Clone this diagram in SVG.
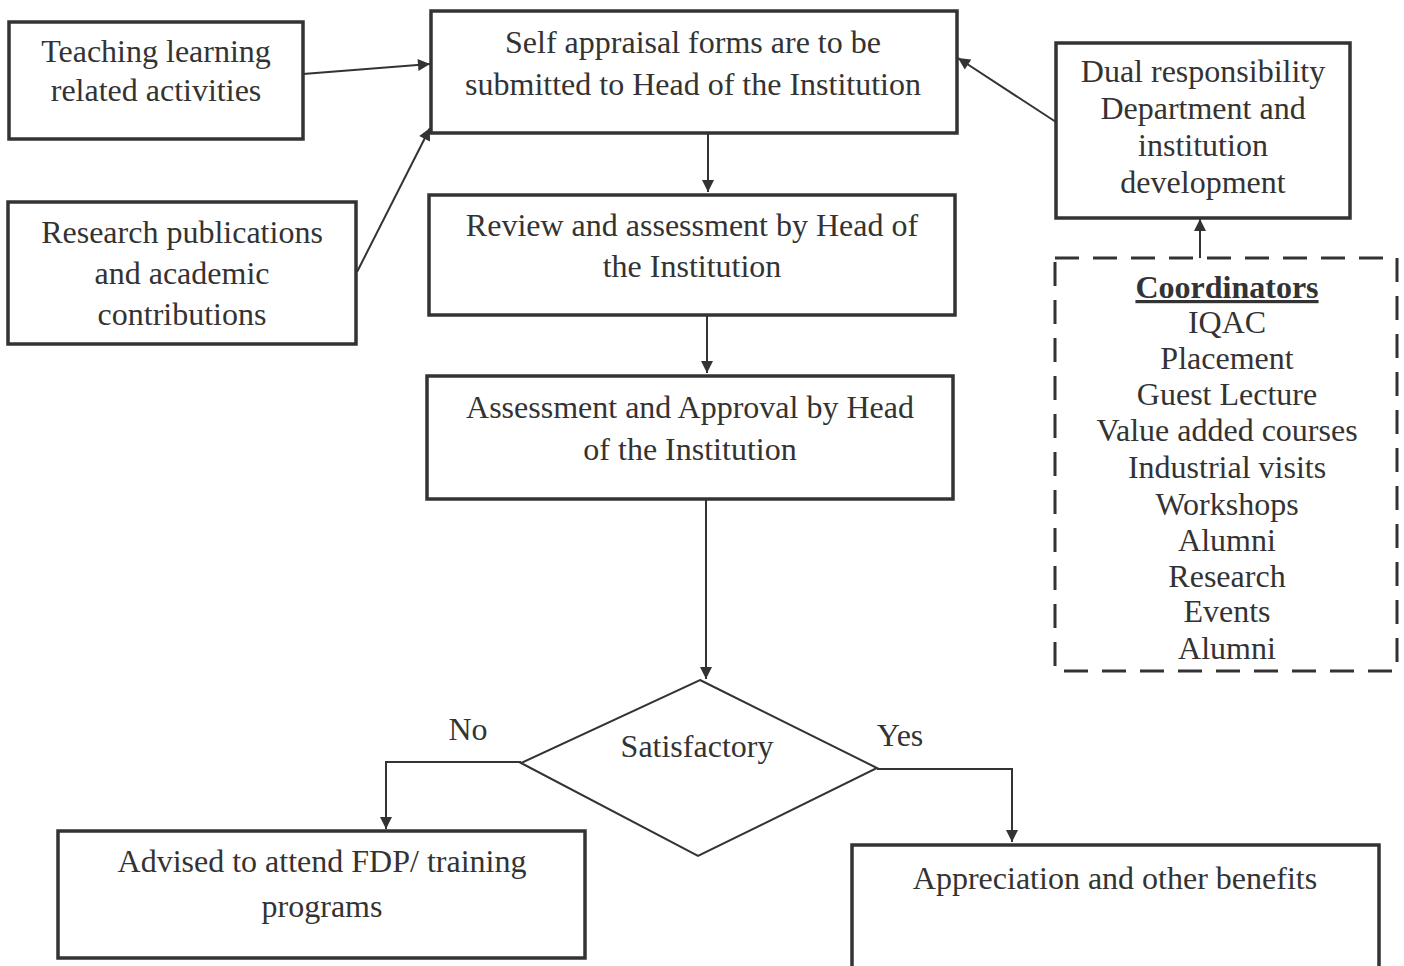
<svg xmlns="http://www.w3.org/2000/svg" width="1404" height="966" viewBox="0 0 1404 966">
<defs>
<marker id="arr" viewBox="0 0 10 10" refX="10" refY="5" markerWidth="15" markerHeight="12" markerUnits="userSpaceOnUse" orient="auto">
<path d="M0,0 L10,5 L0,10 z" fill="#333"/>
</marker>
<style>
.box{fill:#fff;stroke:#333;stroke-width:3.5}
.dash{fill:none;stroke:#333;stroke-width:3;stroke-dasharray:24 14}
.dia{fill:#fff;stroke:#333;stroke-width:2}
.t{font-family:"Liberation Serif","Times New Roman",serif;font-size:32px;fill:#333;text-anchor:middle}
.c{stroke:#333;stroke-width:2;fill:none;marker-end:url(#arr)}
</style>
</defs>
<rect width="1404" height="966" fill="#fff"/>
<g id="connectors">
<line class="c" x1="303" y1="74" x2="430" y2="64"/>
<line class="c" x1="357" y1="272" x2="430" y2="128"/>
<line class="c" x1="708" y1="133" x2="708" y2="192"/>
<line class="c" x1="707" y1="315" x2="707" y2="373"/>
<line class="c" x1="706" y1="499" x2="706" y2="679"/>
<line class="c" x1="1056" y1="122" x2="958" y2="58"/>
<line class="c" x1="1200" y1="258" x2="1200" y2="219"/>
<polyline class="c" points="521,762 386,762 386,829"/>
<polyline class="c" points="877,769 1012,769 1012,842"/>
</g>
<g id="teaching">
<rect class="box" x="9" y="22" width="294" height="117"/>
<text class="t" x="156" y="62">Teaching learning</text>
<text class="t" x="156" y="101">related activities</text>
</g>
<g id="self-appraisal">
<rect class="box" x="431" y="11" width="526" height="122"/>
<text class="t" x="693" y="53">Self appraisal forms are to be</text>
<text class="t" x="693" y="95">submitted to Head of the Institution</text>
</g>
<g id="research">
<rect class="box" x="8" y="202" width="348" height="142"/>
<text class="t" x="182" y="243">Research publications</text>
<text class="t" x="182" y="284">and academic</text>
<text class="t" x="182" y="325">contributions</text>
</g>
<g id="review">
<rect class="box" x="429" y="195" width="526" height="120"/>
<text class="t" x="692" y="236">Review and assessment by Head of</text>
<text class="t" x="692" y="277">the Institution</text>
</g>
<g id="assessment">
<rect class="box" x="427" y="376" width="526" height="123"/>
<text class="t" x="690" y="418">Assessment and Approval by Head</text>
<text class="t" x="690" y="460">of the Institution</text>
</g>
<g id="dual">
<rect class="box" x="1056" y="43" width="294" height="175"/>
<text class="t" x="1203" y="82">Dual responsibility</text>
<text class="t" x="1203" y="119">Department and</text>
<text class="t" x="1203" y="156">institution</text>
<text class="t" x="1203" y="193">development</text>
</g>
<g id="coordinators">
<rect class="dash" x="1055" y="258" width="342" height="413"/>
<text class="t" x="1227" y="298" font-weight="bold" text-decoration="underline">Coordinators</text>
<text class="t" x="1227" y="333">IQAC</text>
<text class="t" x="1227" y="369">Placement</text>
<text class="t" x="1227" y="405">Guest Lecture</text>
<text class="t" x="1227" y="441">Value added courses</text>
<text class="t" x="1227" y="478">Industrial visits</text>
<text class="t" x="1227" y="515">Workshops</text>
<text class="t" x="1227" y="551">Alumni</text>
<text class="t" x="1227" y="587">Research</text>
<text class="t" x="1227" y="622">Events</text>
<text class="t" x="1227" y="659">Alumni</text>
</g>
<g id="satisfactory">
<polygon class="dia" points="700,680 877,768 698,856 521,763"/>
<text class="t" x="697" y="757">Satisfactory</text>
</g>
<g id="labels">
<text class="t" x="468" y="740">No</text>
<text class="t" x="900" y="746">Yes</text>
</g>
<g id="advised">
<rect class="box" x="58" y="831" width="527" height="127"/>
<text class="t" x="322" y="872">Advised to attend FDP/ training</text>
<text class="t" x="322" y="917">programs</text>
</g>
<g id="appreciation">
<rect class="box" x="852" y="845" width="527" height="125"/>
<text class="t" x="1115" y="889">Appreciation and other benefits</text>
</g>
</svg>
